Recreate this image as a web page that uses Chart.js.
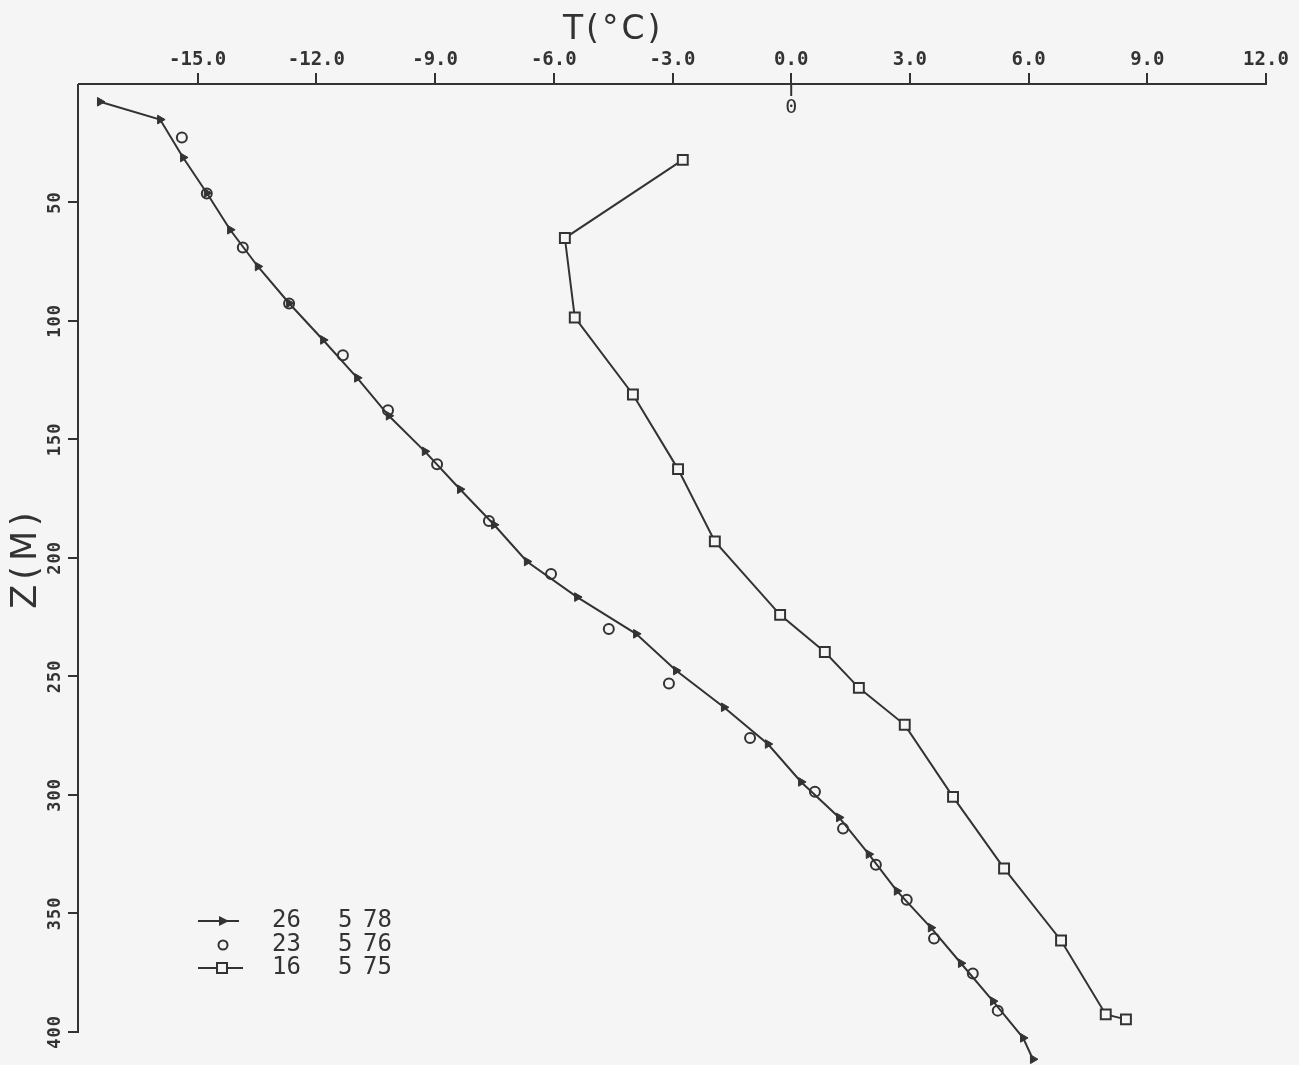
<!DOCTYPE html>
<html>
<head>
<meta charset="utf-8">
<script src="https://cdn.jsdelivr.net/npm/chart.js@4/dist/chart.umd.min.js"></script>
<style>
html,body{margin:0;padding:0;background:#f5f5f5;}
canvas{display:block;}
</style>
</head>
<body>
<canvas id="c" width="1299" height="1065"></canvas>
<script>
// ---- data ----
const xTicks = [-15, -12, -9, -6, -3, 0, 3, 6, 9, 12];
const yTicks = [50, 100, 150, 200, 250, 300, 350, 400];

// series "26 5 78" (triangles with line)
const triT = [-17.47, -15.95, -15.37, -14.77, -14.18, -13.48, -12.69, -11.83, -10.97, -10.17, -9.26, -8.37, -7.51, -6.68, -5.41, -3.92, -2.91, -1.70, -0.59, 0.25, 1.21, 1.96, 2.67, 3.53, 4.29, 5.10, 5.86, 6.11];
const triZ = [7.5, 15, 31, 46, 61.5, 77, 92.5, 108, 124, 140, 155, 171, 186, 201.5, 216.5, 232, 247.5, 263, 278.5, 294.5, 309.5, 325, 340.5, 356, 371, 387, 402.5, 411.5];

// series "23 5 76" (circles, no line)
const circT = [-15.4, -14.77, -13.86, -12.69, -11.33, -10.19, -8.95, -7.64, -6.07, -4.61, -3.09, -1.04, 0.60, 1.31, 2.14, 2.92, 3.61, 4.59, 5.22];
const circZ = [22.6, 46.2, 69, 92.6, 114.5, 137.7, 160.4, 184.4, 206.8, 230, 253, 276, 298.6, 314.2, 329.4, 344.2, 360.6, 375.3, 391];

// series "16 5 75" (squares with line)
const sqT = [-2.74, -5.72, -5.47, -4.0, -2.86, -1.93, -0.28, 0.85, 1.71, 2.87, 4.09, 5.38, 6.82, 7.95, 8.46];
const sqZ = [32, 65, 98.5, 131, 162.5, 193, 224, 239.7, 254.8, 270.4, 300.8, 331, 361.4, 392.6, 394.7];

const legendDay = ['26', '23', '16'];
const legendMonth = ['5', '5', '5'];
const legendYear = ['78', '76', '75'];

const xTitle = 'T(°C)';
const yTitle = 'Z(M)';
const yAxisEnd = 400;

// ---- styling ----
const INK = '#333333';
const BG = '#f5f5f5';
const pts = (xs, ys) => xs.map((x, i) => ({x: x, y: ys[i]}));

const decor = {
  id: 'decor',
  beforeDraw(chart) {
    const ctx = chart.ctx;
    ctx.save();
    ctx.fillStyle = BG;
    ctx.fillRect(0, 0, chart.width, chart.height);
    ctx.restore();
  },
  beforeDatasetsDraw(chart) {
    const ctx = chart.ctx;
    const ys = chart.scales.y;
    ctx.save();
    ctx.strokeStyle = INK;
    ctx.lineWidth = 2;
    ctx.beginPath();
    ctx.moveTo(ys.right - 1, ys.top);
    ctx.lineTo(ys.right - 1, ys.getPixelForValue(yAxisEnd) + 1);
    ctx.stroke();
    ctx.restore();
  },
  afterDraw(chart) {
    const ctx = chart.ctx;
    const xs = chart.scales.x, ys = chart.scales.y;
    ctx.save();
    ctx.fillStyle = INK;
    ctx.strokeStyle = INK;

    ctx.font = '33px "DejaVu Sans"';
    ctx.textAlign = 'center';
    ctx.textBaseline = 'middle';
    ctx.letterSpacing = '3px';
    ctx.fillText(xTitle, xs.getPixelForValue(-4.5), 30);
    ctx.letterSpacing = '0px';

    const x0 = xs.getPixelForValue(0);
    ctx.lineWidth = 2;
    ctx.beginPath();
    ctx.moveTo(x0, xs.bottom);
    ctx.lineTo(x0, xs.bottom + 12);
    ctx.stroke();
    ctx.font = '20px "DejaVu Sans Mono"';
    ctx.fillText('0', x0, xs.bottom + 24);

    ctx.font = 'bold 17px "DejaVu Sans Mono"';
    ctx.letterSpacing = '1px';
    ys.ticks.forEach(t => {
      const py = ys.getPixelForValue(t.value);
      ctx.save();
      ctx.translate(56, py);
      ctx.rotate(-Math.PI / 2);
      ctx.fillText(String(t.value), 0, 0);
      ctx.restore();
    });

    ctx.save();
    ctx.font = '35px "DejaVu Sans"';
    ctx.letterSpacing = '5px';
    ctx.translate(27, ys.getPixelForValue(200));
    ctx.rotate(-Math.PI / 2);
    ctx.fillText(yTitle, 0, 0);
    ctx.restore();
    ctx.letterSpacing = '0px';

    const rows = [921, 945, 968];
    ctx.lineWidth = 2;
    ctx.beginPath(); ctx.moveTo(198, rows[0]); ctx.lineTo(239, rows[0]); ctx.stroke();
    ctx.beginPath();
    ctx.moveTo(229, rows[0]); ctx.lineTo(219, rows[0] - 5); ctx.lineTo(219, rows[0] + 5); ctx.closePath();
    ctx.fill();
    ctx.beginPath(); ctx.arc(223, rows[1], 4.5, 0, Math.PI * 2); ctx.stroke();
    ctx.beginPath(); ctx.moveTo(198, rows[2]); ctx.lineTo(243, rows[2]); ctx.stroke();
    ctx.fillStyle = BG;
    ctx.fillRect(217, rows[2] - 5, 10, 10);
    ctx.strokeRect(217, rows[2] - 5, 10, 10);
    ctx.fillStyle = INK;
    ctx.font = '24px "DejaVu Sans Mono"';
    ctx.textAlign = 'left';
    for (let i = 0; i < 3; i++) {
      ctx.fillText(legendDay[i], 272, rows[i]);
      ctx.fillText(legendMonth[i], 338, rows[i]);
      ctx.fillText(legendYear[i], 363, rows[i]);
    }
    ctx.restore();
  }
};

new Chart(document.getElementById('c'), {
  type: 'scatter',
  data: {
    datasets: [
      {
        label: legendDay[0] + ' ' + legendMonth[0] + ' ' + legendYear[0],
        data: pts(triT, triZ),
        showLine: true,
        borderColor: INK,
        borderWidth: 2,
        backgroundColor: INK,
        pointStyle: 'triangle',
        rotation: 90,
        pointRadius: 5,
        pointBorderWidth: 1,
        clip: false
      },
      {
        label: legendDay[1] + ' ' + legendMonth[1] + ' ' + legendYear[1],
        data: pts(circT, circZ),
        showLine: false,
        borderColor: INK,
        backgroundColor: 'rgba(0,0,0,0)',
        pointStyle: 'circle',
        pointRadius: 5,
        pointBorderWidth: 2,
        clip: false
      },
      {
        label: legendDay[2] + ' ' + legendMonth[2] + ' ' + legendYear[2],
        data: pts(sqT, sqZ),
        showLine: true,
        borderColor: INK,
        borderWidth: 2,
        backgroundColor: BG,
        pointStyle: 'rect',
        pointRadius: 7,
        pointBorderWidth: 2,
        clip: false
      }
    ]
  },
  options: {
    responsive: false,
    animation: false,
    devicePixelRatio: 1,
    layout: {autoPadding: false, padding: {top: 0, left: 0, right: 33, bottom: 4.6}},
    plugins: {legend: {display: false}, tooltip: {enabled: false}},
    scales: {
      x: {
        type: 'linear',
        position: 'top',
        min: -18,
        max: 12,
        afterBuildTicks: s => { s.ticks = xTicks.map(v => ({value: v})); },
        afterFit: s => { s.height = 84; },
        grid: {drawOnChartArea: false, drawTicks: true, tickLength: 11, color: INK, lineWidth: 2},
        border: {display: true, color: INK, width: 2},
        ticks: {
          color: INK,
          padding: 2,
          font: {family: '"DejaVu Sans Mono"', size: 19, weight: 'bold'},
          maxRotation: 0,
          callback: v => Number(v).toFixed(1)
        }
      },
      y: {
        type: 'linear',
        position: 'left',
        reverse: true,
        min: 0,
        max: 412,
        afterBuildTicks: s => { s.ticks = yTicks.map(v => ({value: v})); },
        afterFit: s => { s.width = 79; },
        grid: {drawOnChartArea: false, drawTicks: true, tickLength: 11, color: INK, lineWidth: 2},
        border: {display: false},
        ticks: {display: false}
      }
    }
  },
  plugins: [decor]
});
</script>
</body>
</html>
